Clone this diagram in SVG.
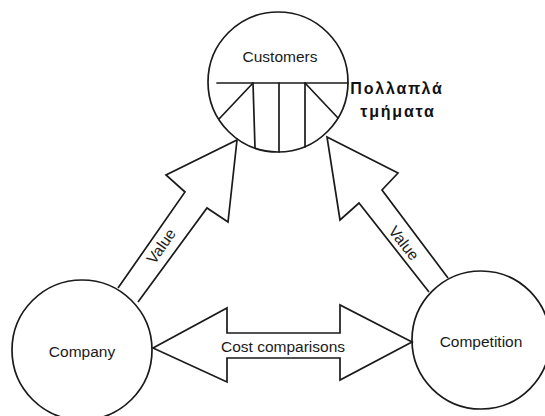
<svg xmlns="http://www.w3.org/2000/svg" width="545" height="416" viewBox="0 0 545 416">
  <style>
    .ln { fill: none; stroke: #1a1a1a; stroke-width: 1.7; stroke-linejoin: miter; stroke-linecap: round; }
    .arrow { fill: #ffffff; stroke: #1a1a1a; stroke-width: 1.7; stroke-linejoin: miter; }
    .lbl { font-family: "Liberation Sans", Arial, sans-serif; font-size: 15.5px; fill: #1a1a1a; text-anchor: middle; }
    .note { font-family: "Liberation Sans", Arial, sans-serif; font-size: 16px; font-weight: bold; fill: #111111; text-anchor: middle; letter-spacing: 1.8px; }
  </style>
  <rect width="545" height="416" fill="#ffffff"/>

  <!-- connectors: block arrows -->
  <g id="connectors">
    <g id="value-company">
      <path class="arrow" d="M118,288 L185,192 L166,175 L237,140 L228,222 L207,208 L138,302"/>
      <text class="lbl" font-size="16" transform="translate(161,246) rotate(-55)" y="5.5">Value</text>
    </g>
    <g id="value-competition">
      <path class="arrow" d="M448,278 L382,190 L398,173 L327,137 L340,220 L359,203 L429,292"/>
      <text class="lbl" font-size="16" transform="translate(404,243) rotate(52)" y="5.5">Value</text>
    </g>
    <g id="cost-comparisons">
      <polygon class="arrow" points="153,348 227,308 227,333 340,333 340,305 412,342 340,380 340,358 227,358 227,382"/>
      <text class="lbl" x="283" y="352">Cost comparisons</text>
    </g>
  </g>

  <!-- customers, divided into segments -->
  <g id="customers">
    <circle class="ln" cx="278" cy="82" r="70"/>
    <text class="lbl" x="280" y="62">Customers</text>
    <line class="ln" x1="217" y1="83" x2="348" y2="83"/>
    <line class="ln" x1="253" y1="83" x2="255" y2="148"/>
    <line class="ln" x1="279" y1="83" x2="279" y2="152"/>
    <line class="ln" x1="305" y1="83" x2="305" y2="147"/>
    <line class="ln" x1="253" y1="83" x2="219" y2="119"/>
    <line class="ln" x1="305" y1="83" x2="338" y2="118"/>
  </g>

  <g id="segments-note">
    <text class="note" x="397" y="94">Πολλαπλά</text>
    <text class="note" x="398" y="117">τμήματα</text>
  </g>

  <g id="company">
    <circle class="ln" cx="82" cy="350" r="70"/>
    <text class="lbl" x="82" y="357">Company</text>
  </g>

  <g id="competition">
    <circle class="ln" cx="481" cy="340" r="69"/>
    <text class="lbl" x="481" y="347">Competition</text>
  </g>
</svg>
